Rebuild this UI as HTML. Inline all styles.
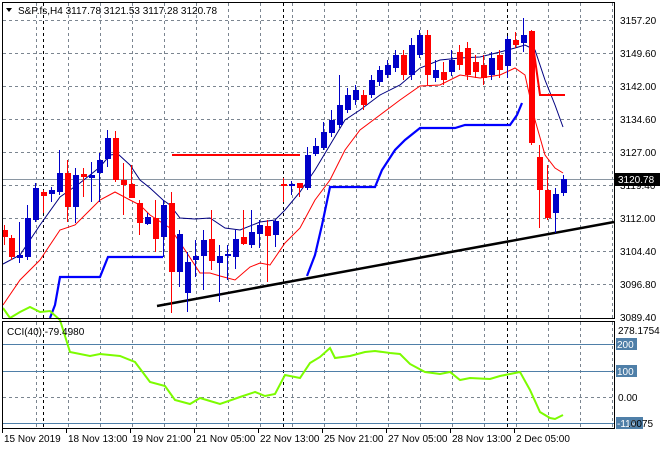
<!DOCTYPE html>
<html><head><meta charset="utf-8"><style>
html,body{margin:0;padding:0;background:#fff}
svg{display:block;font-family:"Liberation Sans",sans-serif}
</style></head><body>
<svg id="s" width="660" height="450" xmlns="http://www.w3.org/2000/svg">
<rect width="660" height="450" fill="#fff"/>
<g id="grid" stroke="#7b8590" stroke-width="1" stroke-dasharray="3,3"></g>
<g id="ind"></g>
<g id="cd"></g>
<rect x="2.5" y="2.5" width="612" height="316" fill="none" stroke="#000"/>
<rect x="2.5" y="321.5" width="612" height="107" fill="none" stroke="#000"/>
<g id="lab" font-size="10" fill="#000"></g>
<text x="18" y="14" font-size="10">S&amp;P.fs,H4  3117.78 3121.53 3117.28 3120.78</text>
<polygon points="6,8 12,8 9,12" fill="#000"/>
<text x="7" y="335" font-size="10">CCI(40) -79.4980</text>
</svg>
<script>
const NS="http://www.w3.org/2000/svg";
function el(p,t,a){const e=document.createElementNS(NS,t);for(const k in a)e.setAttribute(k,a[k]);p.appendChild(e);return e;}
const g=document.getElementById('grid'),ind=document.getElementById('ind'),cd=document.getElementById('cd'),lab=document.getElementById('lab');
const py=[20,53,86,119,152,185,218,251,284,317];
const pl=["3157.20","3149.60","3142.00","3134.60","3127.00","3119.40","3112.00","3104.40","3096.80","3089.40"];
py.forEach((y,i)=>{if(i<9)el(g,'line',{x1:3,x2:614,y1:y+.5,y2:y+.5});el(lab,'text',{x:620,y:y+4}).textContent=pl[i];});
for(let x=36;x<614;x+=32){el(g,'line',{x1:x+.5,x2:x+.5,y1:3,y2:318});el(g,'line',{x1:x+.5,x2:x+.5,y1:322,y2:428});}
[43,283,507].forEach(x=>{el(g,'line',{x1:x+.5,x2:x+.5,y1:3,y2:318,stroke:'#000'});el(g,'line',{x1:x+.5,x2:x+.5,y1:322,y2:428,stroke:'#000'});});
el(g,'line',{x1:3,x2:614,y1:397.5,y2:397.5});
[344,371,423].forEach(y=>el(ind,'line',{x1:3,x2:614,y1:y+.5,y2:y+.5,stroke:'#4f7fa8'}));
el(ind,'line',{x1:3,x2:614,y1:179.5,y2:179.5,stroke:'#8a96a2'});
const C=[[4,230,237,225,245,0],[11,238,257,235,260,0],[19,255,258,222,263,1],[27,218,257,205,260,1],[35,188,220,183,222,1],[43,192,196,190,213,0],[51,190,194,187,202,1],[59,173,192,150,195,1],[67,173,207,160,222,0],[75,175,207,168,223,1],[83,174,177,168,197,0],[91,175,178,162,202,1],[99,160,173,153,202,1],[107,138,159,130,167,1],[115,138,180,131,182,0],[123,180,185,163,215,0],[131,184,198,165,198,0],[139,203,223,200,235,0],[147,217,224,213,225,1],[155,218,239,200,252,0],[163,205,237,200,257,1],[171,203,272,192,313,0],[179,234,272,230,287,1],[187,262,293,252,312,1],[195,256,260,240,277,1],[203,240,256,230,290,1],[211,239,261,210,270,0],[219,256,263,245,302,1],[227,254,256,245,280,1],[235,239,257,230,269,1],[243,237,244,210,245,0],[251,232,245,210,248,1],[259,225,234,220,248,1],[267,226,236,220,282,0],[275,221,235,220,247,1],[283,184,186,178,202,0],[291,184,186,181,195,1],[299,183,188,183,197,0],[307,155,188,147,190,1],[315,146,154,138,156,1],[323,132,148,122,150,1],[331,120,133,110,137,1],[339,105,125,75,128,1],[347,95,110,88,113,1],[355,90,100,85,105,1],[363,95,105,90,110,0],[371,80,95,75,98,1],[379,70,82,66,86,1],[387,65,75,60,78,1],[395,55,68,50,72,1],[403,55,75,50,80,0],[411,45,75,38,80,1],[419,35,55,30,58,1],[427,35,75,30,85,0],[435,70,78,60,82,1],[443,72,80,62,85,0],[451,60,72,50,76,1],[459,52,65,45,70,0],[467,48,75,42,80,0],[475,62,72,55,78,0],[483,65,78,55,85,0],[491,58,75,52,80,1],[499,55,70,50,78,0],[507,39,66,36,78,1],[515,40,45,32,48,0],[523,35,43,18,52,1],[531,31,143,30,145,0],[539,157,190,145,228,0],[547,190,218,165,220,0],[555,194,213,188,233,1],[563,179,193,175,196,1]];
C.forEach(c=>{const col=c[5]?'#0000c8':'#ff0000';el(cd,'line',{x1:c[0]+.5,x2:c[0]+.5,y1:c[3],y2:c[4],stroke:col});el(cd,'rect',{x:c[0]-2,y:c[1],width:6,height:Math.max(1,c[2]-c[1]),fill:col});});
function pl2(pts,col,w,p){el(p||ind,'polyline',{points:pts.map(a=>a.join(',')).join(' '),fill:'none',stroke:col,'stroke-width':w});}
pl2([[3,264],[20,255],[40,225],[60,197],[80,183],[100,167],[110,155],[118,154],[130,165],[140,180],[150,188],[163,200],[170,205],[180,218],[195,219],[210,218],[225,228],[240,230],[260,222],[275,220],[285,210],[300,192],[315,170],[330,145],[345,120],[360,110],[380,95],[400,85],[420,68],[440,60],[460,58],[480,57],[500,52],[515,48],[525,45],[535,50],[545,80],[555,105],[563,127]],'#000080',1);
pl2([[3,305],[20,280],[40,260],[60,230],[75,225],[90,210],[100,200],[115,192],[130,200],[140,205],[150,215],[170,228],[185,250],[200,273],[210,273],[220,276],[235,280],[250,267],[260,263],[270,265],[285,243],[300,228],[315,200],[330,180],[345,150],[360,130],[380,115],[400,100],[420,86],[440,85],[460,75],[480,78],[500,75],[515,68],[525,75],[535,120],[545,155],[555,168],[563,173]],'#ff0000',1);
pl2([[50,318],[55,305],[60,277],[100,277],[108,257],[163,257]],'#0000ff',2.2);
pl2([[307,276],[315,255],[322,225],[330,187],[375,187],[382,170],[395,150],[405,140],[420,128],[455,128],[465,125],[510,125],[517,115],[522,103]],'#0000ff',2.2);
pl2([[172,155],[300,155]],'#ff0000',2);
pl2([[531,31],[540,95],[565,95]],'#ff0000',2);
pl2([[157,306],[614,222]],'#000',2.5);
pl2([[3,308],[10,318],[20,312],[30,307],[40,312],[50,311],[60,320],[70,352],[90,356],[100,354],[120,356],[135,362],[150,382],[165,386],[175,400],[190,404],[200,398],[210,401],[220,404],[240,397],[255,392],[265,396],[275,394],[285,375],[300,378],[310,363],[320,357],[330,348],[335,358],[350,356],[365,352],[375,351],[390,353],[400,354],[410,364],[425,372],[440,374],[450,372],[460,380],[470,378],[490,379],[500,376],[510,374],[520,372],[530,390],[540,412],[550,418],[555,419],[563,415]],'#7cfc00',2);
el(lab,'text',{x:618,y:334}).textContent="278.1754";
[[344,"200"],[371,"100"],[423,"-119"]].forEach(a=>{el(lab,'rect',{x:616,y:a[0]-6,width:a[1].length*6+3,height:12,fill:'#4f7fa8'});el(lab,'text',{x:617,y:a[0]+4,fill:'#fff'}).textContent=a[1];});
el(lab,'text',{x:618,y:401}).textContent="0.00";
el(lab,'text',{x:628,y:427}).textContent=".0075";
el(lab,'rect',{x:615,y:173,width:45,height:13,fill:'#000'});
el(lab,'text',{x:618,y:183,fill:'#fff'}).textContent="3120.78";
[[2,"15 Nov 2019"],[66,"18 Nov 13:00"],[130,"19 Nov 21:00"],[194,"21 Nov 05:00"],[258,"22 Nov 13:00"],[322,"25 Nov 21:00"],[386,"27 Nov 05:00"],[450,"28 Nov 13:00"],[514,"2 Dec 05:00"]].forEach(a=>{el(lab,'text',{x:a[0]+2,y:442}).textContent=a[1];el(lab,'line',{x1:a[0]+.5,x2:a[0]+.5,y1:429,y2:433,stroke:'#000'});});
</script>
</body></html>
